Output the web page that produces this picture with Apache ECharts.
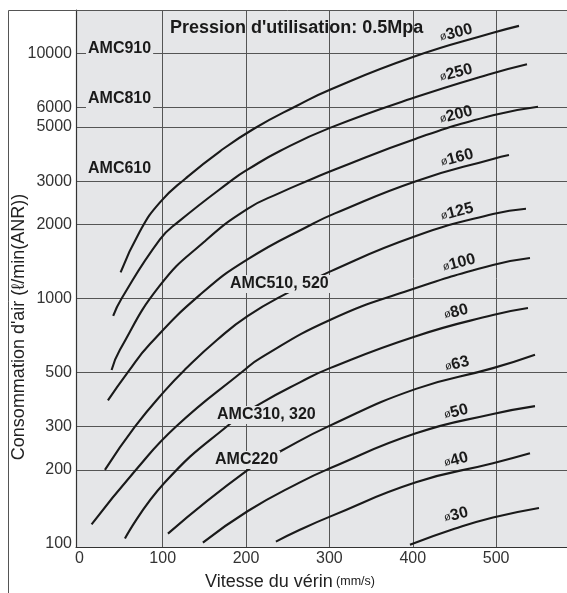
<!DOCTYPE html>
<html><head><meta charset="utf-8">
<script src="https://cdn.jsdelivr.net/npm/echarts@6/dist/echarts.min.js"></script>
<style>html,body{margin:0;padding:0;background:#fff}#c{width:567px;height:593px}</style>
</head><body><div id="c"></div>
<script>
// bore diameters (mm) and curves: [cylinder speed mm/s, air consumption l/min(ANR)]
const boreNames = ['300','250','200','160','125','100','80','63','50','40','30'];
const bore300 = [[49.5,1277],[72.7,1880],[96.7,2466],[127.8,3093],[168.7,3981],[209.4,4921],[261.0,6107],[300.6,7094],[400.2,9645],[496.2,12107],[527.4,12921]];
const bore250 = [[40.6,849],[50.7,1000],[96.7,1741],[118.3,2047],[185.5,3079],[202.2,3357],[240.6,3994],[300.6,4960],[403.8,6622],[496.2,8287],[537.0,9022]];
const bore200 = [[38.7,511],[48.7,618],[96.7,1130],[149.5,1700],[202.2,2325],[240.6,2695],[279.0,3069],[306.6,3357],[403.8,4482],[496.2,5582],[550.2,6052]];
const bore160 = [[34.3,384],[58.3,501],[84.7,652],[144.6,1034],[202.2,1446],[281.4,2026],[306.6,2223],[403.8,3008],[496.2,3707],[515.4,3845]];
const bore125 = [[30.7,200],[66.7,300],[102.7,421],[126.7,513],[165.1,677],[202.2,849],[252.6,1066],[300.6,1287],[403.8,1797],[496.2,2208],[535.8,2320]];
const bore100 = [[14.7,120],[66.7,198],[116.7,302],[196.2,505],[216.6,570],[300.6,817],[396.6,1082],[496.2,1369],[540.6,1462]];
const bore80  = [[54.7,105],[102.7,178],[183.1,313],[216.6,372],[264.6,455],[300.6,520],[403.8,702],[496.2,856],[538.2,914]];
const bore63  = [[106.3,110],[202.2,200],[243.0,240],[300.6,303],[403.8,428],[496.2,520],[546.6,590]];
const bore50  = [[148.2,101],[202.2,136],[264.6,178],[300.6,203],[403.8,282],[496.2,338],[546.6,364]];
const bore40  = [[235.8,102],[264.6,114],[300.6,129],[403.8,178],[496.2,213],[540.6,234]];
const bore30  = [[396.6,99],[450.0,115],[496.2,128],[551.4,140]];
const boreData = [bore300,bore250,bore200,bore160,bore125,bore100,bore80,bore63,bore50,bore40,bore30];

const xTickLabels = [0,100,200,300,400,500];
const xGridValues = [100,200,300,400,500];
const yTickLabels = [100,200,300,500,1000,2000,3000,5000,6000,10000];
const yGridValues = [200,300,500,1000,2000,3000,5000,6000,10000];
const modelLabels = ['AMC910','AMC810','AMC610','AMC510, 520','AMC310, 320','AMC220'];
const titleText = "Pression d'utilisation: 0.5Mpa";
const yName = "Consommation d'air (ℓ/min(ANR))";
const xNameMain = 'Vitesse du vérin';
const xNameUnit = '(mm/s)';

const FONT = '"Liberation Sans", Arial, Helvetica, sans-serif';
const BG = '#e5e6e8';
const INK = '#1a1a1a';

// label placement (pixels)
const modelPos = [[86,49],[86,99],[86,169],[228,284],[215,415],[213,460]];
const borePos = [[456,33],[456,73],[456,115],[457,158],[457,212],[459,263],[456,312],[457,364],[456,412],[456,460],[456,515]];

const chart = echarts.init(document.getElementById('c'), null, {renderer:'canvas'});

const series = boreNames.map((n,i)=>({
  name:'ø'+n, type:'line', data:boreData[i], smooth:0.5,
  showSymbol:false, symbol:'none', silent:true, z:3,
  lineStyle:{color:INK, width:2.1}
}));

const graphics = [
  {type:'polyline', z:50, shape:{points:[[8.5,593],[8.5,10.5],[567,10.5]]}, style:{stroke:'#555', lineWidth:1, fill:null}},
  {type:'text', z:60, x:170, y:28, style:{text:titleText, font:'bold 18px '+FONT, fill:INK, align:'left', verticalAlign:'middle'}},
  {type:'text', z:60, x:19, y:327, rotation:Math.PI/2, style:{text:yName, font:'18px '+FONT, fill:'#222', align:'center', verticalAlign:'middle'}},
  {type:'text', z:60, x:290, y:582, style:{text:'{a|'+xNameMain+'} {b|'+xNameUnit+'}', align:'center', verticalAlign:'middle',
    rich:{a:{fontSize:18, fontFamily:FONT, fill:'#222', color:'#222'}, b:{fontSize:12.5, fontFamily:FONT, fill:'#222', color:'#222'}}}}
];
modelLabels.forEach((t,i)=>{
  graphics.push({type:'text', z:60, x:modelPos[i][0], y:modelPos[i][1],
    style:{text:t, font:'bold 16px '+FONT, fill:INK, align:'left', verticalAlign:'middle', backgroundColor:BG, padding:[1,2]}});
});
boreNames.forEach((n,i)=>{
  graphics.push({type:'text', z:60, x:borePos[i][0], y:borePos[i][1], rotation:15*Math.PI/180,
    style:{text:'{s|ø}{n|'+n+'}', align:'center', verticalAlign:'middle',
      rich:{s:{fontSize:11, fontFamily:FONT, fill:INK, color:INK}, n:{fontSize:16, fontWeight:'bold', fontFamily:FONT, fill:INK, color:INK}}}});
});

chart.setOption({
  animation:false,
  backgroundColor:'#fff',
  grid:{left:76, right:0, top:10, bottom:46, show:true, backgroundColor:BG, borderWidth:0},
  xAxis:{type:'value', min:-4, max:585,
    axisLine:{show:true, onZero:false, lineStyle:{color:'#333', width:1.2}},
    axisTick:{show:false, customValues:xGridValues},
    axisLabel:{customValues:xTickLabels, margin:4, fontSize:16, fontFamily:FONT, color:'#333', formatter:v=>String(Math.round(v))},
    splitLine:{show:true, lineStyle:{color:'#555', width:1}}},
  yAxis:{type:'log', logBase:10, min:97, max:15000,
    axisLine:{show:true, onZero:false, lineStyle:{color:'#333', width:1.2}},
    axisTick:{show:false, customValues:yGridValues},
    axisLabel:{customValues:yTickLabels, margin:4, fontSize:16, fontFamily:FONT, color:'#333', formatter:v=>String(Math.round(v))},
    splitLine:{show:true, lineStyle:{color:'#555', width:1}}},
  series:series,
  graphic:graphics
});
</script></body></html>
